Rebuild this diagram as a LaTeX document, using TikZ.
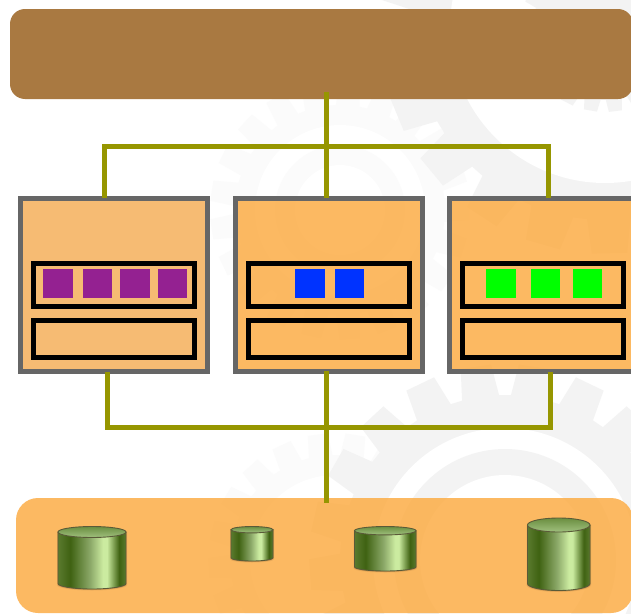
\documentclass[tikz,border=0pt]{standalone}
\usetikzlibrary{calc}
\definecolor{barc}{HTML}{A97941}
\definecolor{panelc}{HTML}{FCA83B}
\definecolor{boxa}{HTML}{F6BB73}
\definecolor{busc}{HTML}{969600}
\definecolor{edgec}{HTML}{666666}
\definecolor{purp}{HTML}{942191}
\definecolor{blu}{HTML}{0033FF}
\definecolor{grn}{HTML}{00FF00}
\definecolor{gearc}{HTML}{F3F3F3}
\definecolor{gearb}{HTML}{FBFBFB}
\definecolor{cyla}{HTML}{3F6212}
\definecolor{cylz}{HTML}{5A7A2E}
\definecolor{cylb}{HTML}{8BA868}
\definecolor{cylc}{HTML}{CBEBA0}
\definecolor{cyltt}{HTML}{6A8E40}
\definecolor{cyltb}{HTML}{A0C07E}
\definecolor{cyledge}{HTML}{5A5A38}
\pgfdeclarehorizontalshading{cylbody}{100bp}{
 color(0bp)=(cylz);
 color(25bp)=(cylz);
 color(34bp)=(cyla);
 color(48.5bp)=(cylb);
 color(58bp)=(cylc);
 color(61bp)=(cylc);
 color(70bp)=(cyla);
 color(75bp)=(cylz);
 color(100bp)=(cylz)}
\pgfdeclareverticalshading{cyltop}{100bp}{
 color(0bp)=(cyltb);
 color(25bp)=(cyltb);
 color(75bp)=(cyltt);
 color(100bp)=(cyltt)}
\tikzset{
 barstyle/.style={draw=none,fill=barc,rounded corners=15pt,minimum width=623pt,minimum height=90pt,inner sep=0pt},
 panelstyle/.style={draw=none,fill=panelc,fill opacity=.8,rounded corners=22pt,minimum width=617pt,minimum height=115pt,inner sep=0pt},
 procbox/.style={draw=edgec,line width=5pt,minimum width=187pt,minimum height=173pt,inner sep=0pt,fill=panelc,fill opacity=.8,draw opacity=1},
 procboxa/.style={procbox,fill=boxa,fill opacity=1},
 slot/.style={draw=black,line width=5pt,minimum width=161pt,inner sep=0pt},
 slotup/.style={slot,minimum height=43.5pt},
 slotdn/.style={slot,minimum height=37.5pt},
 chip/.style={minimum width=29.5pt,minimum height=29pt,inner sep=0pt},
 bus/.style={draw=busc,line width=5pt,line cap=butt,line join=miter}
}
% \gearat{colour}{cx}{cy}{body}{tip}{offset}{pitch}{count-1}: toothed disc
\newcommand{\gearat}[8]{%
 \fill[#1]
  ($(#2,#3)+(#6-7:#4)$)
  \foreach \k in {0,...,#8}{
   -- ($(#2,#3)+({#6+\k*#7-6.5}:#4)$)
   -- ($(#2,#3)+({#6+\k*#7-4.5}:#5)$)
   -- ($(#2,#3)+({#6+\k*#7+4.5}:#5)$)
   -- ($(#2,#3)+({#6+\k*#7+6.5}:#4)$)
  } -- cycle;
}
% \tank{x1}{x2}{ytop}{ybot}{ellipse half height}
\newcommand{\tank}[5]{%
 \path[fill=brown!60!black,fill opacity=.12]
   (#1-1,#3+#5) -- (#1-1,#4-#5+1.5) arc[start angle=180,end angle=0,x radius={(#2-#1+2)/2},y radius=#5] -- (#2+1,#3+#5) -- cycle;
 \path[fill=brown!60!black,fill opacity=.25]
   (#1-.5,#3+#5) -- (#1-.5,#4-#5+.8) arc[start angle=180,end angle=0,x radius={(#2-#1+1)/2},y radius=#5] -- (#2+.5,#3+#5) -- cycle;
 \path[shading=cylbody,draw=cyledge,line width=.9pt]
   (#1,#3+#5) -- (#1,#4-#5) arc[start angle=180,end angle=0,x radius={(#2-#1)/2},y radius=#5] -- (#2,#3+#5) -- cycle;
 \path[shading=cyltop,draw=cyledge,line width=.9pt]
   ({(#1+#2)/2},#3+#5) circle[x radius={(#2-#1)/2},y radius=#5];
}
\begin{document}
\begin{tikzpicture}[x=1pt,y=-1pt]
\useasboundingbox (0,0) rectangle (631,613);
\clip (0,0) rectangle (631,613);
\fill[white] (0,0) rectangle (631,613);
% watermark gears
\gearat{gearb}{340}{210}{105}{130}{0}{17.142857}{20}
\fill[white] (340,210) circle[radius=85];
\fill[gearb] (340,210) circle[radius=65];
\fill[white] (340,210) circle[radius=45];
\gearat{gearb}{335}{560}{105}{127}{5}{17.142857}{20}
\fill[white] (335,560) circle[radius=85];
\gearat{gearc}{605}{28}{192}{226}{106}{17.142857}{20}
\fill[white] (605,28) circle[radius=155];
\gearat{gearc}{605}{28}{72}{84}{100}{17.142857}{20}
\gearat{gearc}{505}{560}{165}{196}{210}{17.142857}{20}
\fill[white] (505,560) circle[radius=132];
\fill[gearc] (505,560) circle[radius=111];
\fill[white] (505,560) circle[radius=85];
% main blocks
\node[barstyle] (top) at (321.5,54) {};
\node[panelstyle] (pool) at (324.5,555.5) {};
\node[procboxa] (p1) at (114,285) {};
\node[procbox] (p2) at (328.5,285) {};
\node[procbox] (p3) at (543,285) {};
% slots
\node[slotup] (u1) at (114,285) {};
\node[slotdn] (d1) at (114,339) {};
\node[slotup] (u2) at (328.5,285) {};
\node[slotdn] (d2) at (328.5,339) {};
\node[slotup] (u3) at (543,285) {};
\node[slotdn] (d3) at (543,339) {};
% chips
\node[chip,fill=purp] (a1) at (58,283.5) {};
\node[chip,fill=purp] (a2) at (97.5,283.5) {};
\node[chip,fill=purp] (a3) at (135,283.5) {};
\node[chip,fill=purp] (a4) at (172.5,283.5) {};
\node[chip,fill=blu] (b1) at (310,283.5) {};
\node[chip,fill=blu] (b2) at (349.5,283.5) {};
\node[chip,fill=grn] (c1) at (501,283.5) {};
\node[chip,fill=grn] (c2) at (545.5,283.5) {};
\node[chip,fill=grn] (c3) at (587.5,283.5) {};
% connectors
\coordinate (topbus) at (326,146);
\coordinate (lowbus) at (326,427);
\draw[bus] ([xshift=4.5pt,yshift=7pt]top.south) -- ([xshift=-2.5pt,yshift=-2pt]p2.north);
\draw[bus] ([xshift=-10pt,yshift=-2pt]p1.north) |- (topbus) -| ([xshift=5pt,yshift=-2pt]p3.north);
\draw[bus] ([xshift=-7pt,yshift=2pt]p1.south) |- (lowbus) -| ([xshift=7pt,yshift=2pt]p3.south);
\draw[bus] ([xshift=-2.5pt,yshift=3pt]p2.south) -- ([xshift=1.5pt,yshift=-5pt]pool.north);
% storage
\tank{58}{126}{526.5}{589}{5.5}
\tank{231}{273}{526.5}{561}{3.2}
\tank{354.5}{416}{526.5}{571}{4.2}
\tank{527.5}{590}{518}{590.5}{7}
\end{tikzpicture}
\end{document}
